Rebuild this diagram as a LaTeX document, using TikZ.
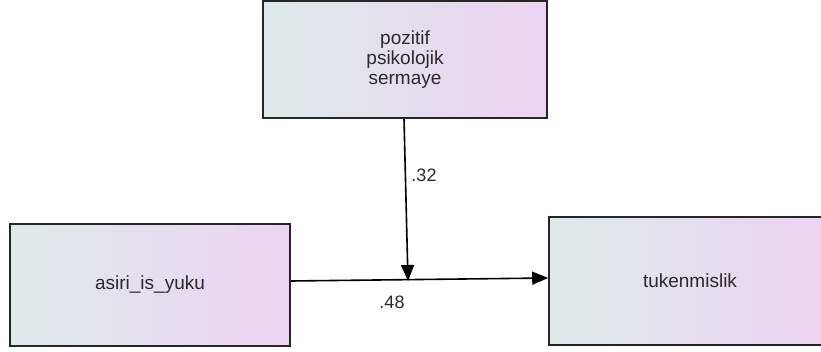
\documentclass[tikz,border=0pt]{standalone}
\usepackage{fontspec}
\setmainfont{Liberation Sans}
\usetikzlibrary{arrows.meta}
\definecolor{boxleft}{HTML}{DEEAEA}
\definecolor{boxright}{HTML}{ECD3F2}
\definecolor{txt}{HTML}{2A2A2A}
\tikzset{
  varbox/.style={draw=black!85, line width=1.6pt, left color=boxleft, right color=boxright,
    text=txt, align=center, font=\fontsize{19}{20}\selectfont, inner sep=0pt},
  conn/.style={line width=1.6pt, -{Triangle[length=16pt,width=13pt]}},
  coef/.style={text=txt, font=\fontsize{18}{20}\selectfont, inner sep=0pt}
}
\begin{document}
\begin{tikzpicture}[x=1pt,y=-1pt]
\useasboundingbox (0,0) rectangle (821,352);
\clip (0,0) rectangle (821,352);
\node[varbox, minimum width=284pt, minimum height=117pt] (P) at (405,59.5) {pozitif\\psikolojik\\sermaye};
\node[varbox, minimum width=280pt, minimum height=122pt] (A) at (150,285) {asiri\_is\_yuku};
\node[varbox, minimum width=282pt, minimum height=128pt] (T) at (690,281) {tukenmislik};
\coordinate (Pout) at ([xshift=-1pt]P.south);
\coordinate (Mid) at (408,281);
\coordinate (Aout) at ([yshift=4pt]A.east);
\coordinate (Tin) at ([yshift=3pt]T.west);
\draw[conn] (Pout) -- (Mid);
\draw[conn] (Aout) -- (Tin);
\node[coef] (c1) at (424,175) {.32};
\node[coef] (c2) at (392,302) {.48};
\end{tikzpicture}
\end{document}
